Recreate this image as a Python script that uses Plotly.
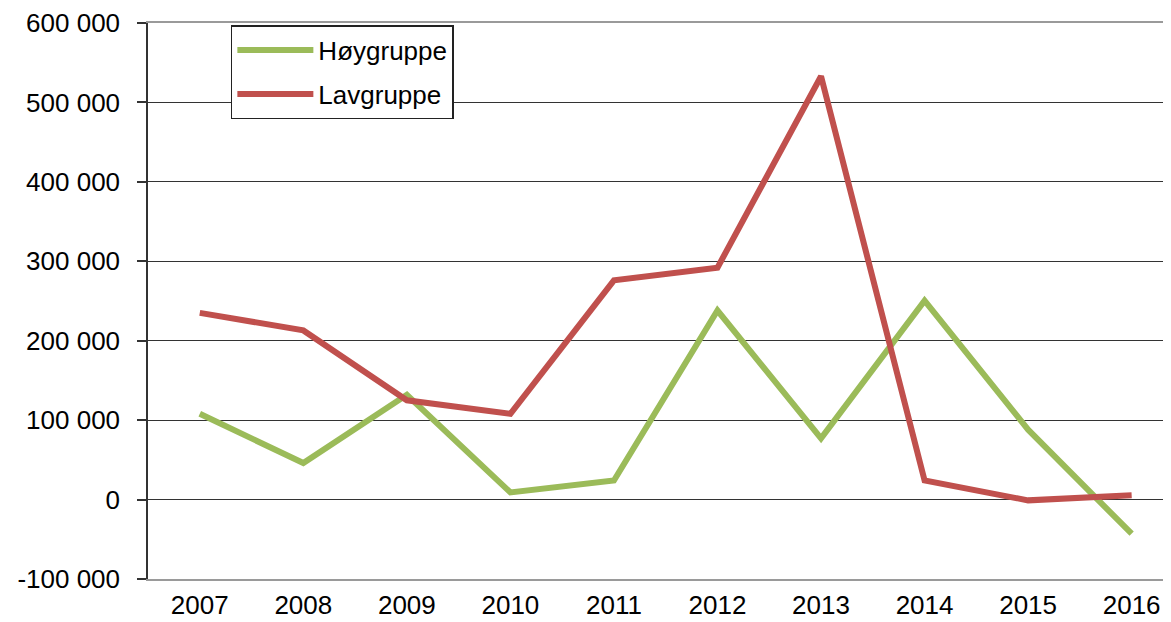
import plotly.graph_objects as go

years = ["2007", "2008", "2009", "2010", "2011", "2012", "2013", "2014", "2015", "2016"]
hoy = [108000, 46000, 132000, 9000, 24000, 238000, 77000, 250500, 88000, -43000]
lav = [235000, 213000, 125000, 108000, 276000, 292000, 533000, 24000, -1000, 5400]
y_ticks = [-100000, 0, 100000, 200000, 300000, 400000, 500000, 600000]
y_labels = ["-100 000", "0", "100 000", "200 000", "300 000", "400 000", "500 000", "600 000"]

xi = list(range(len(years)))
FONT = "Liberation Sans, Arial, sans-serif"

fig = go.Figure()
fig.add_trace(go.Scatter(x=xi, y=hoy, name="Høygruppe", mode="lines",
                         line=dict(color="#9BBB59", width=6), legendgroup="a"))
fig.add_trace(go.Scatter(x=xi, y=lav, name="Lavgruppe", mode="lines",
                         line=dict(color="#C0504D", width=6), legendgroup="b"))

xr = [-0.5, 9.38]
fig.update_layout(
    template="none",
    width=1171, height=622,
    margin=dict(l=140, r=8, t=15, b=51, autoexpand=False),
    paper_bgcolor="white", plot_bgcolor="white",
    font=dict(family=FONT, size=26, color="black"),
    showlegend=True,
    legend=dict(x=0.081, y=0.996, xanchor="left", yanchor="top",
                bgcolor="white", bordercolor="#222", borderwidth=1.5,
                font=dict(family=FONT, size=26, color="black"),
                traceorder="grouped", tracegroupgap=7,
                itemwidth=76),
    xaxis=dict(range=xr, tickvals=xi, ticktext=years, ticks="",
               showgrid=False, zeroline=False, showline=True,
               linecolor="#9a9a9a", linewidth=2, mirror=True,
               automargin=False, ticklabelstandoff=2, tickfont=dict(size=26)),
    xaxis2=dict(range=xr, overlaying="x", anchor="free", position=1/7,
                tickvals=[i * 0.5 for i in range(19)], showticklabels=False,
                ticks="outside", ticklen=7, tickwidth=1.5, tickcolor="#333",
                showline=True, linecolor="#555", linewidth=1.5,
                showgrid=False, zeroline=False, automargin=False),
    yaxis=dict(range=[-100000, 600000], tickvals=y_ticks, ticktext=y_labels,
               ticks="outside", ticklen=9, tickwidth=1.5, tickcolor="#333",
               showline=True, linecolor="#333", linewidth=1.5,
               showgrid=True, gridcolor="#333333", gridwidth=1.2,
               zeroline=False, ticklabelstandoff=12, automargin=False,
               tickfont=dict(size=26)),
)
fig.write_html("out.html")
